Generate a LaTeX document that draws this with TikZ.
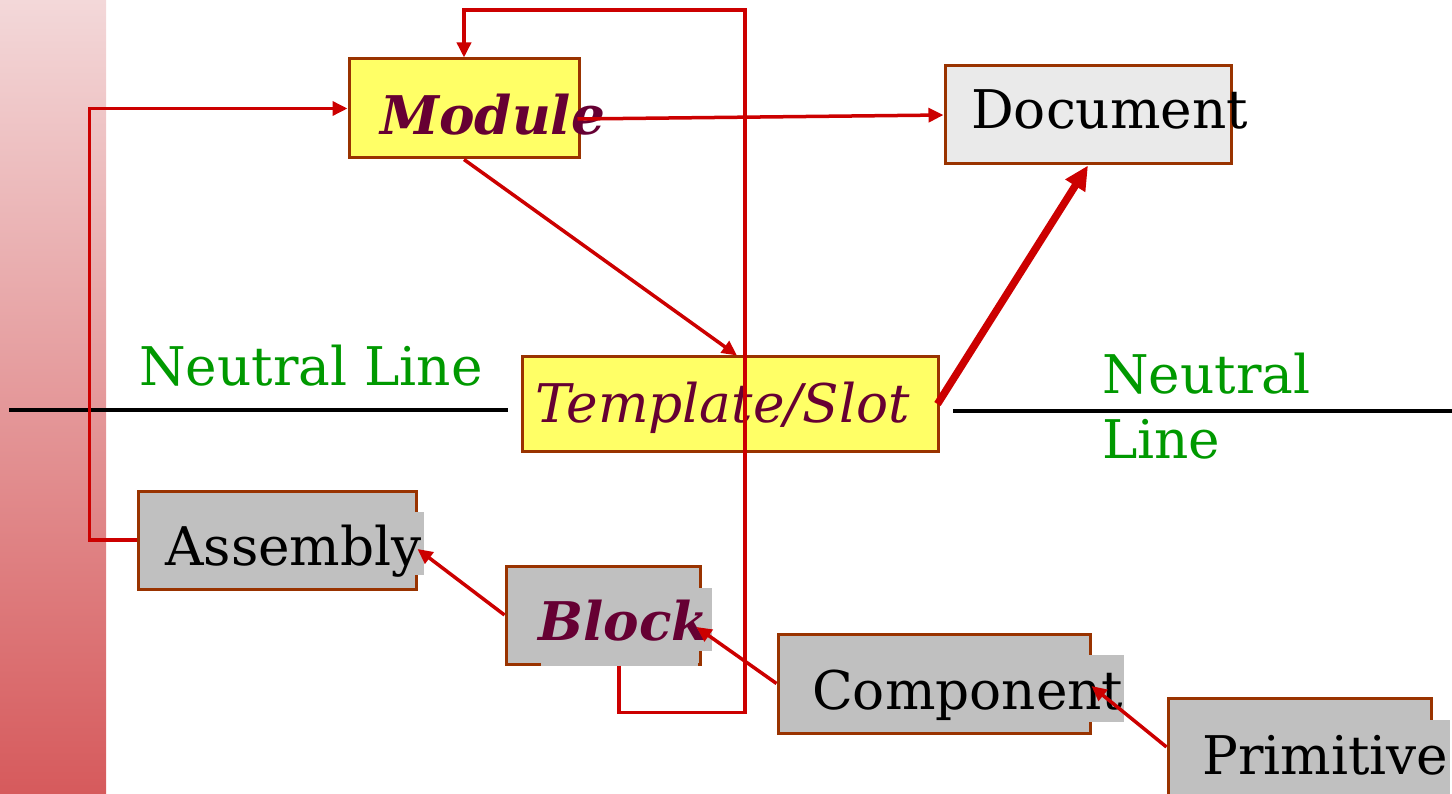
\documentclass[tikz,border=0pt]{standalone}
\usepackage{fontspec}
\setmainfont{DejaVu Serif}
\usetikzlibrary{arrows.meta}
\definecolor{boxbrown}{RGB}{153,51,0}
\definecolor{boxyellow}{RGB}{255,255,102}
\definecolor{boxgray}{RGB}{192,192,192}
\definecolor{docgray}{RGB}{234,234,234}
\definecolor{conred}{RGB}{204,0,0}
\definecolor{textpurple}{RGB}{102,0,51}
\definecolor{neutralgreen}{RGB}{0,153,0}
\definecolor{bartop}{RGB}{243,216,217}
\definecolor{barbottom}{RGB}{214,90,92}
\tikzset{
  box/.style={draw=boxbrown, line width=3pt, rectangle, inner sep=0pt},
  ybox/.style={box, fill=boxyellow},
  gbox/.style={box, fill=boxgray},
  dbox/.style={box, fill=docgray},
  lbl/.style={anchor=base west, inner sep=0pt, font=\fontsize{53.3}{64}\selectfont},
  ilbl/.style={lbl, text=textpurple, font=\fontsize{53.3}{64}\selectfont\itshape},
  bilbl/.style={lbl, text=textpurple, font=\fontsize{53.3}{64}\selectfont\bfseries\itshape},
  glbl/.style={lbl, text=neutralgreen},
  conn/.style={draw=conred, line width=3.5pt, -{Triangle[length=15pt,width=14pt]}},
  thickconn/.style={draw=conred, line width=7.5pt, -{Triangle[length=24pt,width=22pt]}},
  neutral/.style={draw=black, line width=3.8pt},
}
\begin{document}
\begin{tikzpicture}[x=1pt,y=-1pt]
\useasboundingbox (0,0) rectangle (1452,794);
% left gradient bar
\shade[top color=bartop, bottom color=barbottom] (0,0) rectangle (106,794);
% neutral lines
\coordinate (nl1a) at (9,410);
\coordinate (nl1b) at (508,410);
\coordinate (nl2a) at (953,411);
\coordinate (nl2b) at (1452,411);
\draw[neutral] (nl1a) -- (nl1b);
\draw[neutral] (nl2a) -- (nl2b);
\node[glbl] (nlleft) at (139,386) {Neutral Line};
\node[glbl] (nlright1) at (1102,394) {Neutral};
\node[glbl] (nlright2) at (1102,458) {Line};
% boxes
\node[ybox, minimum width=230pt, minimum height=99pt] (mod) at (464,108.5) {};
\node[dbox, minimum width=286pt, minimum height=98pt] (doc) at (1088,115) {};
\node[ybox, minimum width=416pt, minimum height=94pt] (tmp) at (730,404) {};
\node[gbox, minimum width=278pt, minimum height=98pt] (asm) at (277,540) {};
\node[gbox, minimum width=194pt, minimum height=98pt] (blk) at (603,615) {};
\node[gbox, minimum width=312pt, minimum height=99pt] (cmp) at (934,683.5) {};
\node[gbox, minimum width=263pt, minimum height=98pt] (prm) at (1299.5,747) {};
% text backgrounds of the gray boxes
\fill[boxgray] (150,512) rectangle (424,575);
\fill[boxgray] (541,588) rectangle (712,651);
\fill[boxgray] (541,650) rectangle (698,666);
\fill[boxgray] (800,655) rectangle (1124,722);
\fill[boxgray] (1190,720) rectangle (1450,794);
% texts
\node[bilbl] (modt) at (380,135) {Module};
\node[lbl] (doct) at (971,129) {Document};
\node[ilbl] (tmpt) at (535,423) {Template/Slot};
\node[lbl] (asmt) at (165,565) {Assembly};
\node[bilbl] (blkt) at (538,640) {Block};
\node[lbl] (cmpt) at (812,709) {Component};
\node[lbl] (prmt) at (1202,774) {Primitive};
% connectors
\draw[conn] ([xshift=16pt]blk.south) -- ++(0,47) -| (745,10) -| (mod.north);
\draw[conn] ([xshift=-3pt,yshift=-10.5pt]mod.east) -- (doc.west);
\draw[conn] (mod.south) -- ([xshift=7pt]tmp.north);
\draw[thickconn] ([xshift=-2pt]tmp.east) -- (doc.south);
\draw[conn] (asm.west) -- ++(-47,0) |- (mod.west);
\draw[conn] (blk.west) -- ([yshift=-9pt]asm.east);
\draw[conn] (cmp.west) -- ([xshift=-5pt,yshift=-12pt]blk.east);
\draw[conn] (prm.west) -- ([yshift=-2.5pt]cmp.east);
\end{tikzpicture}
\end{document}
